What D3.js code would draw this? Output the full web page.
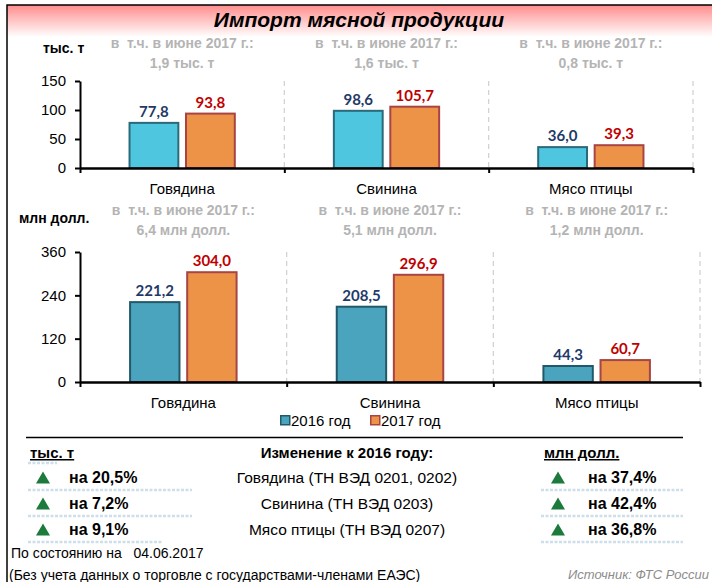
<!DOCTYPE html>
<html>
<head>
<meta charset="utf-8">
<script src="https://cdn.jsdelivr.net/npm/d3@7"></script>
<style>
  body { margin: 0; background: #fff; }
  svg { display: block; font-family: "Liberation Sans", Arial, sans-serif; }
</style>
</head>
<body>
<div id="chart"></div>
<script>
const categories = ['Говядина', 'Свинина', 'Мясо птицы'];
const years = ['2016', '2017'];
const tons2016 = [77.8, 98.6, 36.0];
const tons2017 = [93.8, 105.7, 39.3];
const usd2016 = [221.2, 208.5, 44.3];
const usd2017 = [304.0, 296.9, 60.7];
const tonTicks = [0, 50, 100, 150];
const usdTicks = [0, 120, 240, 360];
const juneTons = ['1,9 тыс. т', '1,6 тыс. т', '0,8 тыс. т'];
const juneUsd = ['6,4 млн долл.', '5,1 млн долл.', '1,2 млн долл.'];
const changeRows = ['Говядина (ТН ВЭД 0201, 0202)', 'Свинина (ТН ВЭД 0203)', 'Мясо птицы (ТН ВЭД 0207)'];
const changeTons = ['на 20,5%', 'на 7,2%', 'на 9,1%'];
const changeUsd = ['на 37,4%', 'на 42,4%', 'на 36,8%'];

const width = 712;
const height = 582;
const ru = d3.formatLocale({ decimal: ',', thousands: ' ', grouping: [3], currency: ['', ''] });
const fmt = ru.format('.1f');

const svg = d3
  .select('#chart')
  .append('svg')
  .attr('width', width)
  .attr('height', height);

// title band
const grad = svg
  .append('defs')
  .append('linearGradient')
  .attr('id', 'titleGrad')
  .attr('x1', 0)
  .attr('y1', 0)
  .attr('x2', 0)
  .attr('y2', 1);
grad.append('stop').attr('offset', '0%').attr('stop-color', '#ff8c8c');
grad.append('stop').attr('offset', '100%').attr('stop-color', '#ffffff');

svg
  .append('rect')
  .attr('x', 7)
  .attr('y', 5)
  .attr('width', width - 7)
  .attr('height', 32)
  .attr('fill', 'url(#titleGrad)');

svg
  .append('path')
  .attr('d', 'M7,' + height + ' L7,5 L' + width + ',5')
  .attr('fill', 'none')
  .attr('stroke', '#000')
  .attr('stroke-width', 1.5);

svg
  .append('text')
  .text('Импорт мясной продукции')
  .attr('x', 359)
  .attr('y', 27)
  .attr('text-anchor', 'middle')
  .style('font-size', '21px')
  .style('font-weight', 'bold')
  .style('font-style', 'italic');

function drawPanel(opts) {
  const { x0, x1, yTop, yBase, ticks, v2016, v2017, unit, unitX, unitY, notes, noteY, fill2016, stroke2016, labelY } = opts;

  const xLin = d3.scaleLinear().domain([0, categories.length]).range([x0, x1]);
  const x = d3.scaleBand().domain(categories).range([x0, x1]);
  const bw = x.bandwidth();
  const xYear = d3
    .scaleBand()
    .domain(years)
    .range([bw * 0.2375, bw * 0.7625])
    .paddingInner(0.1);
  const y = d3
    .scaleLinear()
    .domain([0, d3.max(ticks)])
    .range([yBase, yTop]);

  const g = svg.append('g');

  // dashed separators
  g.selectAll('line.sep')
    .data(d3.range(1, categories.length + 1))
    .enter()
    .append('line')
    .attr('x1', d => xLin(d))
    .attr('x2', d => xLin(d))
    .attr('y1', yTop)
    .attr('y2', yBase)
    .attr('stroke', '#cfcfcf')
    .attr('stroke-width', 1.2)
    .attr('stroke-dasharray', '5,4');

  const rows = categories.map((c, i) => ({ cat: c, vals: [v2016[i], v2017[i]] }));

  const grp = g
    .selectAll('g.cat')
    .data(rows)
    .enter()
    .append('g')
    .attr('transform', d => 'translate(' + x(d.cat) + ',0)');

  grp
    .selectAll('rect')
    .data(d => d.vals.map((v, j) => ({ year: years[j], v: v })))
    .enter()
    .append('rect')
    .attr('x', d => xYear(d.year) + 1)
    .attr('y', d => y(d.v))
    .attr('width', xYear.bandwidth() - 2)
    .attr('height', d => yBase - y(d.v))
    .attr('fill', d => (d.year === '2016' ? fill2016 : '#ec9348'))
    .attr('stroke', d => (d.year === '2016' ? stroke2016 : '#a84444'))
    .attr('stroke-width', 2);

  grp
    .selectAll('text.val')
    .data(d => d.vals.map((v, j) => ({ year: years[j], v: v })))
    .enter()
    .append('text')
    .text(d => fmt(d.v))
    .attr('x', d => xYear(d.year) + xYear.bandwidth() / 2)
    .attr('y', d => y(d.v) - 6)
    .attr('text-anchor', 'middle')
    .attr('fill', d => (d.year === '2016' ? '#1f3a68' : '#c00000'))
    .style('font-family', 'Lato, sans-serif')
    .style('font-weight', 'bold')
    .style('font-size', '15px');

  grp
    .append('text')
    .text(d => d.cat)
    .attr('x', bw / 2)
    .attr('y', labelY)
    .attr('text-anchor', 'middle')
    .style('font-size', '15px');

  // june notes
  grp
    .append('text')
    .text('в  т.ч. в июне 2017 г.:')
    .attr('x', bw / 2)
    .attr('y', noteY)
    .attr('text-anchor', 'middle')
    .attr('fill', '#b4b4b4')
    .style('white-space', 'pre')
    .style('font-weight', 'bold')
    .style('font-size', '14px');

  grp
    .append('text')
    .text((d, i) => notes[i])
    .attr('x', bw / 2)
    .attr('y', noteY + 20)
    .attr('text-anchor', 'middle')
    .attr('fill', '#b4b4b4')
    .style('font-weight', 'bold')
    .style('font-size', '14px');

  // axes
  const yAxis = g
    .append('g')
    .attr('transform', 'translate(' + x0 + ',0)')
    .call(
      d3
        .axisLeft(y)
        .tickValues(ticks)
        .tickSize(5)
        .tickSizeOuter(0)
        .tickPadding(9)
    );
  yAxis.select('.domain').attr('stroke-width', 2);
  yAxis.selectAll('line').attr('stroke-width', 2);
  yAxis
    .selectAll('text')
    .style('font-size', '15px')
    .style('font-family', '"Liberation Sans", Arial, sans-serif')
    .attr('fill', '#000');

  const xAxis = g
    .append('g')
    .attr('transform', 'translate(0,' + yBase + ')')
    .call(
      d3
        .axisBottom(xLin)
        .tickValues(d3.range(0, categories.length + 1))
        .tickFormat('')
        .tickSize(5)
        .tickSizeOuter(0)
    );
  xAxis.select('.domain').attr('stroke-width', 2.5);
  xAxis.selectAll('line').attr('stroke-width', 2);

  svg
    .append('text')
    .text(unit)
    .attr('x', unitX)
    .attr('y', unitY)
    .style('font-weight', 'bold')
    .style('font-size', '14px');
}

drawPanel({
  x0: 80,
  x1: 693,
  yTop: 81,
  yBase: 168,
  ticks: tonTicks,
  v2016: tons2016,
  v2017: tons2017,
  unit: 'тыс. т',
  unitX: 43,
  unitY: 53,
  notes: juneTons,
  noteY: 48,
  fill2016: '#4fc6df',
  stroke2016: '#2b6a7a',
  labelY: 194,
});

drawPanel({
  x0: 80,
  x1: 700,
  yTop: 252,
  yBase: 382,
  ticks: usdTicks,
  v2016: usd2016,
  v2017: usd2017,
  unit: 'млн долл.',
  unitX: 19,
  unitY: 223,
  notes: juneUsd,
  noteY: 215,
  fill2016: '#4ba4bd',
  stroke2016: '#22596a',
  labelY: 408,
});

// legend
const legend = svg
  .selectAll('g.legend')
  .data([
    { label: '2016 год', fill: '#4ba4bd', stroke: '#22596a', x: 280 },
    { label: '2017 год', fill: '#ec9348', stroke: '#a84444', x: 370 },
  ])
  .enter()
  .append('g')
  .attr('transform', d => 'translate(' + d.x + ',415)');
legend
  .append('rect')
  .attr('x', 0.75)
  .attr('y', 0.75)
  .attr('width', 9)
  .attr('height', 9)
  .attr('fill', d => d.fill)
  .attr('stroke', d => d.stroke)
  .attr('stroke-width', 1.5);
legend
  .append('text')
  .text(d => d.label)
  .attr('x', 11)
  .attr('y', 10.5)
  .style('font-size', '15px');

// change table
svg
  .append('line')
  .attr('x1', 26)
  .attr('x2', 683)
  .attr('y1', 437.5)
  .attr('y2', 437.5)
  .attr('stroke', '#000')
  .attr('stroke-width', 1.5);

svg
  .append('text')
  .text('тыс. т')
  .attr('x', 30)
  .attr('y', 458)
  .style('font-weight', 'bold')
  .style('font-size', '15px')
  .style('text-decoration', 'underline');

svg
  .append('text')
  .text('Изменение к 2016 году:')
  .attr('x', 347)
  .attr('y', 458)
  .attr('text-anchor', 'middle')
  .style('font-weight', 'bold')
  .style('font-size', '15px');

svg
  .append('text')
  .text('млн долл.')
  .attr('x', 544)
  .attr('y', 458)
  .style('font-weight', 'bold')
  .style('font-size', '15px')
  .style('text-decoration', 'underline');

const rowY = d3
  .scalePoint()
  .domain(changeRows)
  .range([477, 529]);

const dotted = (x1, x2, yy) =>
  svg
    .append('line')
    .attr('x1', x1)
    .attr('x2', x2)
    .attr('y1', yy)
    .attr('y2', yy)
    .attr('stroke', '#cddfea')
    .attr('stroke-width', 2.5)
    .attr('stroke-dasharray', '3,1.5');

dotted(28, 57, 463);

const tri = d3.symbol().type(d3.symbolTriangle).size(85);

const row = svg
  .selectAll('g.row')
  .data(changeRows.map((r, i) => ({ name: r, tons: changeTons[i], usd: changeUsd[i], i: i })))
  .enter()
  .append('g')
  .attr('transform', d => 'translate(0,' + rowY(d.name) + ')');

row
  .append('path')
  .attr('d', tri)
  .attr('transform', 'translate(43,2.5)')
  .attr('fill', '#1b7a3c');
row
  .append('path')
  .attr('d', tri)
  .attr('transform', 'translate(558,2.5)')
  .attr('fill', '#1b7a3c');

row
  .append('text')
  .text(d => d.tons)
  .attr('x', 69)
  .attr('y', 6)
  .style('font-weight', 'bold')
  .style('font-size', '16px');

row
  .append('text')
  .text(d => d.name)
  .attr('x', 347)
  .attr('y', 6)
  .attr('text-anchor', 'middle')
  .style('font-size', '15.5px');

row
  .append('text')
  .text(d => d.usd)
  .attr('x', 588)
  .attr('y', 6)
  .style('font-weight', 'bold')
  .style('font-size', '16px');

row.each(function(d) {
  const yy = rowY(d.name) + 13;
  dotted(28, d.i === changeRows.length - 1 ? 162 : 192, yy);
  dotted(541, 683, yy);
});

// footer
svg
  .append('text')
  .text('По состоянию на   04.06.2017')
  .attr('x', 11)
  .attr('y', 558)
  .style('white-space', 'pre')
  .style('font-size', '14px');

svg
  .append('text')
  .text('(Без учета данных о торговле с государствами-членами ЕАЭС)')
  .attr('x', 9)
  .attr('y', 580)
  .style('font-size', '14px');

svg
  .append('text')
  .text('Источник: ФТС России')
  .attr('x', 709)
  .attr('y', 579)
  .attr('text-anchor', 'end')
  .attr('fill', '#8c8c8c')
  .style('font-style', 'italic')
  .style('font-size', '13px');
</script>
</body>
</html>
